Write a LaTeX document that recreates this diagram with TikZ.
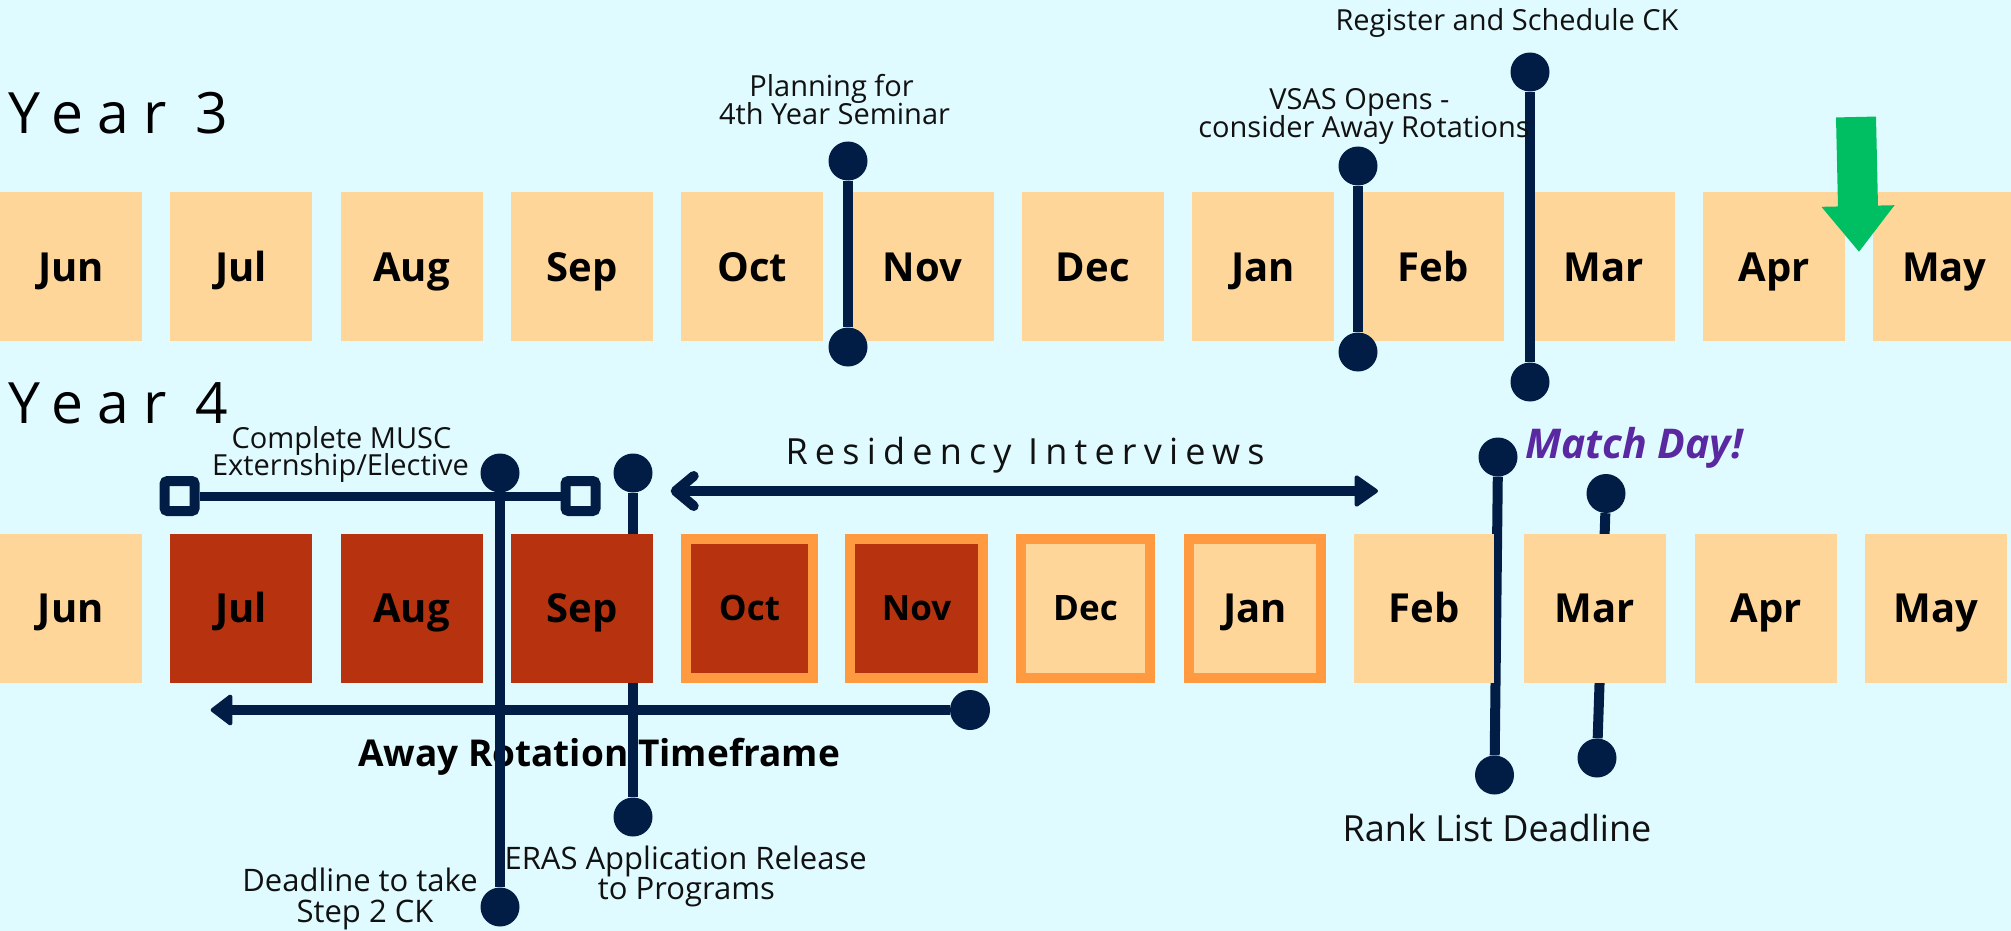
\documentclass[tikz,border=0pt]{standalone}
\usepackage{fontspec}
\setmainfont{Open Sans}
\newfontfamily\yearfont[LetterSpace=25]{Open Sans}
\newfontfamily\spacedfont[LetterSpace=20]{Open Sans}
\usetikzlibrary{arrows.meta}
\definecolor{bg}{HTML}{E0FBFF}
\definecolor{peach}{HTML}{FFD699}
\definecolor{rust}{HTML}{B73310}
\definecolor{orng}{HTML}{FF9A40}
\definecolor{navy}{HTML}{021D45}
\definecolor{grn}{HTML}{00BF63}
\definecolor{purp}{HTML}{5A28A0}
\definecolor{ink}{HTML}{111111}
\tikzset{
  mbox/.style={minimum width=#1, minimum height=149pt, inner sep=0pt, outer sep=0pt, draw=none},
  pk/.style={mbox=#1, fill=peach},
  rd/.style={mbox=#1, fill=rust},
  rdb/.style={minimum width=#1, minimum height=139pt, inner sep=0pt, fill=rust, draw=orng, line width=10pt},
  pkb/.style={minimum width=#1, minimum height=139pt, inner sep=0pt, fill=peach, draw=orng, line width=10pt},
  mlab/.style={font=\bfseries\fontsize{40}{40}\selectfont, anchor=base, inner sep=0pt, text=black},
  slab/.style={font=\bfseries\fontsize{35}{35}\selectfont, anchor=base, inner sep=0pt, text=black},
  note/.style={font=\fontsize{29}{29}\selectfont, anchor=base, inner sep=0pt, text=ink},
  bignote/.style={font=\fontsize{31}{31}\selectfont, anchor=base, inner sep=0pt, text=ink},
  pin/.style={circle, fill=navy, minimum size=39pt, inner sep=0pt},
  pinline/.style={draw=navy, line width=10pt},
  sq/.style={draw=navy, line width=10pt, fill=bg, minimum size=30pt, inner sep=0pt, rounded corners=3pt},
  yearlab/.style={font=\yearfont\fontsize{57}{57}\selectfont, anchor=base west, inner sep=0pt, text=black},
}
\begin{document}
\begin{tikzpicture}[x=1pt,y=-1pt]
\fill[bg] (0,0) rectangle (2011,931);
\useasboundingbox (0,0) rectangle (2011,931);

% Year labels
\node[yearlab] (y3) at (8,134) {Year 3};
\node[yearlab] (y4) at (8,423) {Year 4};

% Away rotation text (behind pin lines)
\node[font=\bfseries\fontsize{37}{37}\selectfont, anchor=base, inner sep=0pt, text=black] (awt) at (599,766.5) {Away Rotation Timeframe};

% Year 4 pins (lines behind boxes)
\node[pin] (dA) at (500,473) {};
\node[pin] (dB) at (500,907) {};
\draw[pinline] (dA) -- (dB);
\node[pin] (eA) at (633,473) {};
\node[pin] (eB) at (633,817) {};
\draw[pinline] (eA) -- (eB);
\node[pin] (rA) at (1498,457) {};
\node[pin] (rB) at (1494.5,775) {};
\draw[pinline] (rA) -- (rB);
\node[pin] (mA) at (1606,493.5) {};
\node[pin] (mB) at (1597,758) {};
\draw[pinline] (mA) -- (mB);

% Year 3 boxes
\foreach \m [count=\i from 0] in {Jun,Jul,Aug,Sep,Oct,Nov,Dec,Jan,Feb,Mar,Apr,May}{
  \node[pk=142pt] (a\i) at ({170.3*\i+71},266.2) {};
  \node[mlab] (al\i) at ([yshift=-15pt]a\i.center) {\m};
}

% Year 4 boxes
\node[pk=141.6pt] (b0) at (70.8,608.5) {};
\node[rd=142pt] (b1) at (241,608.5) {};
\node[rd=142pt] (b2) at (411.6,608.5) {};
\node[rd=142pt] (b3) at (582,608.5) {};
\node[rdb=127pt] (b4) at (749.5,608.5) {};
\node[rdb=133pt] (b5) at (916.5,608.5) {};
\node[pkb=129pt] (b6) at (1085.5,608.5) {};
\node[pkb=132pt] (b7) at (1255,608.5) {};
\node[pk=140pt] (b8) at (1424,608.5) {};
\node[pk=142pt] (b9) at (1595,608.5) {};
\node[pk=142pt] (b10) at (1766,608.5) {};
\node[pk=142pt] (b11) at (1936,608.5) {};
\node[mlab] (bl0) at ([yshift=-14pt]b0.center) {Jun};
\node[mlab] (bl1) at ([yshift=-14pt]b1.center) {Jul};
\node[mlab] (bl2) at ([yshift=-14pt]b2.center) {Aug};
\node[mlab] (bl3) at ([yshift=-14pt]b3.center) {Sep};
\node[slab] (bl4) at ([yshift=-12pt]b4.center) {Oct};
\node[slab] (bl5) at ([yshift=-12pt]b5.center) {Nov};
\node[slab] (bl6) at ([yshift=-12pt]b6.center) {Dec};
\node[mlab] (bl7) at ([yshift=-14pt]b7.center) {Jan};
\node[mlab] (bl8) at ([yshift=-14pt]b8.center) {Feb};
\node[mlab] (bl9) at ([yshift=-14pt]b9.center) {Mar};
\node[mlab] (bl10) at ([yshift=-14pt]b10.center) {Apr};
\node[mlab] (bl11) at ([yshift=-14pt]b11.center) {May};

% Year 3 pins
\node[pin] (pA) at (848,161) {};
\node[pin] (pB) at (848,347) {};
\draw[pinline] (pA) -- (pB);
\node[pin] (vA) at (1358,166) {};
\node[pin] (vB) at (1358,352) {};
\draw[pinline] (vA) -- (vB);
\node[pin] (gA) at (1530,72) {};
\node[pin] (gB) at (1530,382) {};
\draw[pinline] (gA) -- (gB);

% Green arrow
\coordinate (grTop) at (1856,117);
\coordinate (grTip) at (1859,252);
\draw[grn, line width=40pt, -{Triangle[length=46pt,width=70pt]}] (grTop) -- (grTip);

% Bracket
\node[sq] (sqL) at (179.6,496) {};
\node[sq] (sqR) at (580.5,496) {};
\draw[navy, line width=9pt] (sqL) -- (sqR);

% Residency arrow
\coordinate (resL) at (670.7,491);
\coordinate (resR) at (1378,491);
\draw[navy, line width=10pt, {Straight Barb[length=18pt,width=30pt,round]}-{Triangle[length=25pt,width=34pt,round,line width=4pt]}] (resL) -- (resR);

% Away rotation arrow
\coordinate (awL) at (210.7,710);
\node[pin, minimum size=40pt] (awR) at (970,710) {};
\draw[navy, line width=10pt, {Triangle[length=23pt,width=34pt,round,line width=4pt]}-] (awL) -- (awR);

% Notes
\node[note] (n1a) at (831.5,97) {Planning for};
\node[note] (n1b) at (834.5,125) {4th Year Seminar};
\node[note] (n2) at (1507,31) {Register and Schedule CK};
\node[note] (n3a) at (1359.5,110) {VSAS Opens -};
\node[note] (n3b) at (1364,138) {consider Away Rotations};
\node[note] (n4a) at (341.5,448.5) {Complete MUSC};
\node[note] (n4b) at (340.5,475.6) {Externship/Elective};
\node[font=\spacedfont\fontsize{36}{36}\selectfont, anchor=base, inner sep=0pt, text=ink] (n5) at (1025,464) {Residency Interviews};
\node[bignote] (n6a) at (360,891) {Deadline to take};
\node[bignote] (n6b) at (365,922) {Step 2 CK};
\node[bignote] (n7a) at (685.6,869) {ERAS Application Release};
\node[bignote] (n7b) at (686.5,899) {to Programs};
\node[note, font=\fontsize{36}{36}\selectfont] (n8) at (1497,841) {Rank List Deadline};
\node[font=\bfseries\itshape\fontsize{41}{41}\selectfont, anchor=base, inner sep=0pt, text=purp] (n9) at (1634,458) {Match Day!};
\end{tikzpicture}
\end{document}
